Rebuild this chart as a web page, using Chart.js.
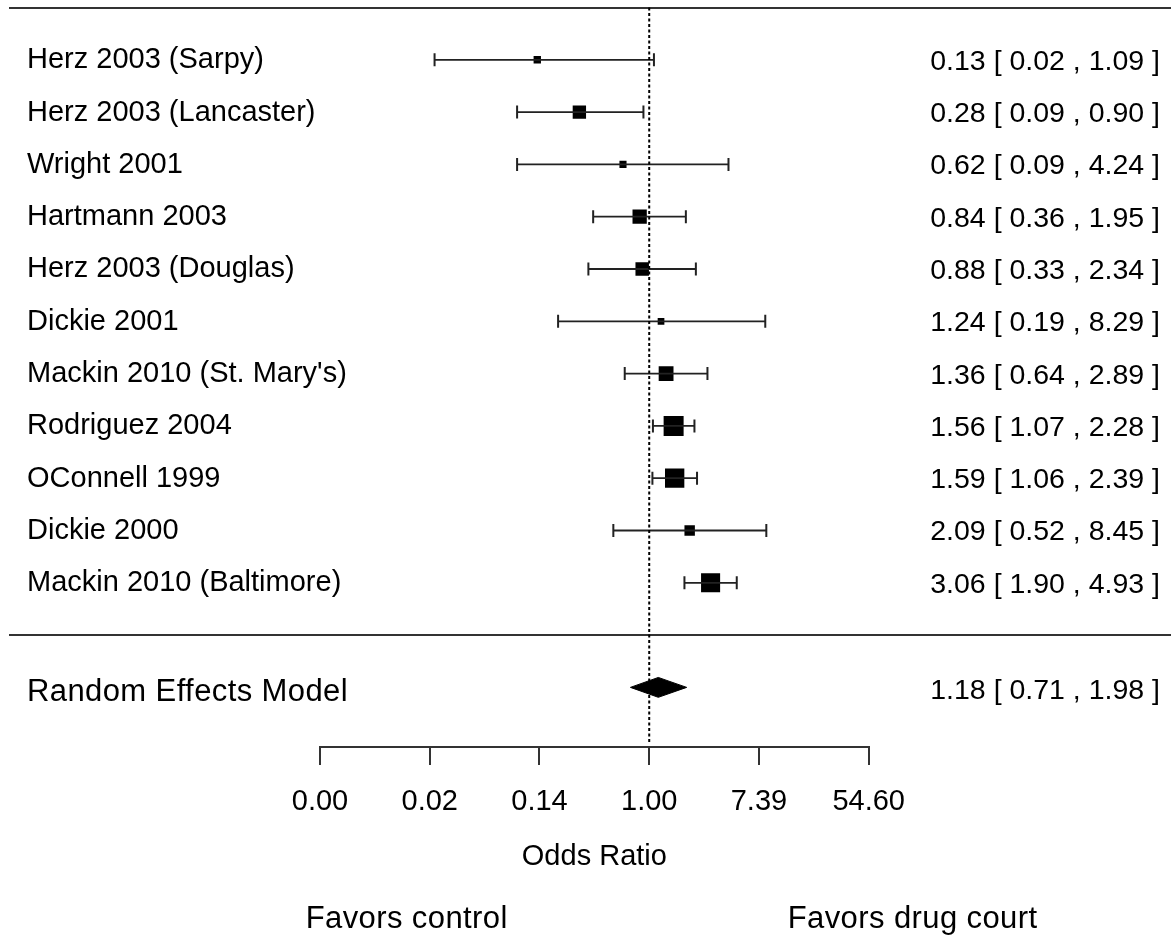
<!DOCTYPE html>
<html>
<head>
<meta charset="utf-8">
<script src="https://cdn.jsdelivr.net/npm/chart.js@4.4.1/dist/chart.umd.min.js"></script>
<style>
  html, body { margin: 0; padding: 0; background: #fff; }
  #wrap { width: 1171px; height: 938px; }
</style>
</head>
<body>
<div id="wrap"><canvas id="forest" width="1171" height="938"></canvas></div>
<script>
// Individual studies: odds ratio and 95% CI
const studies = [
    'Herz 2003 (Sarpy)', 'Herz 2003 (Lancaster)', 'Wright 2001', 'Hartmann 2003',
    'Herz 2003 (Douglas)', 'Dickie 2001', "Mackin 2010 (St. Mary's)", 'Rodriguez 2004',
    'OConnell 1999', 'Dickie 2000', 'Mackin 2010 (Baltimore)'
];
const oddsRatio = [0.13, 0.28, 0.62, 0.84, 0.88, 1.24, 1.36, 1.56, 1.59, 2.09, 3.06];
const ciLower   = [0.02, 0.09, 0.09, 0.36, 0.33, 0.19, 0.64, 1.07, 1.06, 0.52, 1.90];
const ciUpper   = [1.09, 0.90, 4.24, 1.95, 2.34, 8.29, 2.89, 2.28, 2.39, 8.45, 4.93];
// relative weights in the random-effects model (drive the square size)
const weights   = [4.0, 8.5, 3.8, 9.2, 8.6, 3.5, 9.6, 13.5, 13.0, 6.3, 12.8];

// Pooled estimate
const summaryLabel = 'Random Effects Model';
const summaryOR = [1.18];
const summaryLower = [0.71];
const summaryUpper = [1.98];

// Axis ticks, in log odds
const logTicks = [-6, -4, -2, 0, 2, 4];
const axisTitle = 'Odds Ratio';
const favorLabels = ['Favors control', 'Favors drug court'];

const FONT = "'Liberation Sans', Arial, sans-serif";
Chart.defaults.font.family = FONT;
Chart.defaults.color = '#000';

// study rows run 11 (top) .. 1, summary sits on -1, rule at 0, top rule at 12
const rows = studies.map((s, i) => studies.length - i);
const summaryRow = -1;

const whiskerData = [];
const capData = [];
studies.forEach((s, i) => {
    whiskerData.push({ x: ciLower[i], y: rows[i] }, { x: ciUpper[i], y: rows[i] }, { x: ciUpper[i], y: null });
    capData.push({ x: ciLower[i], y: rows[i] }, { x: ciUpper[i], y: rows[i] });
});

const wMin = Math.min(...weights), wMax = Math.max(...weights);
// square side from 6.7px to 20px, rect pointStyle radius = side / sqrt(2)
const squareRadius = weights.map(w => (6.7 + 13.3 * (w - wMin) / (wMax - wMin)) / Math.SQRT2);

const dh = 0.19; // diamond half height in row units
const fmt = v => v.toFixed(2);

const forestText = {
    id: 'forestText',
    beforeDatasetsDraw(chart) {
        const { ctx, scales: { y } } = chart;
        ctx.save();
        ctx.strokeStyle = '#333';
        ctx.lineWidth = 2;
        [12, 0].forEach(v => {
            const py = Math.round(y.getPixelForValue(v));
            ctx.beginPath();
            ctx.moveTo(9, py);
            ctx.lineTo(chart.width, py);
            ctx.stroke();
        });
        ctx.restore();
    },
    afterDraw(chart) {
        const { ctx, scales: { x, y } } = chart;
        ctx.save();
        ctx.fillStyle = '#000';
        ctx.textBaseline = 'alphabetic';

        // left column: study labels
        ctx.font = '29px ' + FONT;
        ctx.textAlign = 'left';
        studies.forEach((s, i) => ctx.fillText(s, 27, y.getPixelForValue(rows[i]) + 8.5));

        // right column: OR [ lower , upper ]
        ctx.font = '28.5px ' + FONT;
        ctx.textAlign = 'right';
        studies.forEach((s, i) => {
            const txt = fmt(oddsRatio[i]) + ' [ ' + fmt(ciLower[i]) + ' , ' + fmt(ciUpper[i]) + ' ]';
            ctx.fillText(txt, 1160, y.getPixelForValue(rows[i]) + 10);
        });
        const sy = y.getPixelForValue(summaryRow);
        ctx.fillText(fmt(summaryOR[0]) + ' [ ' + fmt(summaryLower[0]) + ' , ' + fmt(summaryUpper[0]) + ' ]', 1160, sy + 12);

        // summary label and favour captions
        ctx.font = '31px ' + FONT;
        ctx.letterSpacing = '0.4px';
        ctx.textAlign = 'left';
        ctx.fillText(summaryLabel, 27, sy + 13.5);
        ctx.textAlign = 'center';
        ctx.fillText(favorLabels[0], x.getPixelForValue(Math.exp(-4.42)), 928);
        ctx.fillText(favorLabels[1], x.getPixelForValue(Math.exp(4.8)), 928);
        ctx.restore();
    }
};

const ctx = document.getElementById('forest').getContext('2d');
new Chart(ctx, {
    type: 'scatter',
    data: {
        datasets: [
            {
                // reference line at OR = 1
                data: [{ x: 1, y: 12 }, { x: 1, y: -2.06 }],
                showLine: true,
                borderColor: '#000',
                borderWidth: 2,
                borderDash: [3, 2.5],
                pointRadius: 0,
                clip: false
            },
            {
                data: whiskerData,
                showLine: true,
                spanGaps: false,
                borderColor: '#222',
                borderWidth: 1.8,
                pointRadius: 0
            },
            {
                data: capData,
                pointStyle: 'line',
                rotation: 90,
                pointRadius: 6.5,
                pointBorderWidth: 2,
                pointBorderColor: '#222'
            },
            {
                data: oddsRatio.map((v, i) => ({ x: v, y: rows[i] })),
                pointStyle: 'rect',
                pointRadius: squareRadius,
                pointBackgroundColor: '#000',
                pointBorderWidth: 0
            },
            {
                data: [
                    { x: summaryLower[0], y: summaryRow },
                    { x: summaryOR[0], y: summaryRow + dh },
                    { x: summaryUpper[0], y: summaryRow }
                ],
                showLine: true,
                borderColor: '#000',
                borderWidth: 1,
                pointRadius: 0
            },
            {
                data: [
                    { x: summaryLower[0], y: summaryRow },
                    { x: summaryOR[0], y: summaryRow - dh },
                    { x: summaryUpper[0], y: summaryRow }
                ],
                showLine: true,
                borderColor: '#000',
                borderWidth: 1,
                backgroundColor: '#000',
                fill: '-1',
                pointRadius: 0
            }
        ]
    },
    options: {
        responsive: false,
        devicePixelRatio: 1,
        animation: false,
        layout: { autoPadding: false, padding: { left: 320, right: 302.3, top: 7.5, bottom: 0 } },
        plugins: {
            legend: { display: false },
            tooltip: { enabled: false }
        },
        scales: {
            x: {
                type: 'logarithmic',
                min: Math.exp(-6),
                max: Math.exp(4),
                bounds: 'data',
                afterBuildTicks: s => { s.ticks = logTicks.map(v => ({ value: Math.exp(v) })); },
                afterFit: s => { s.height = 191; },
                ticks: {
                    callback: v => Number(v).toFixed(2),
                    font: { size: 29 },
                    color: '#000',
                    padding: 20,
                    maxRotation: 0,
                    autoSkip: false
                },
                grid: { drawOnChartArea: false, tickLength: 18, color: '#333', lineWidth: 2 },
                border: { display: true, color: '#333', width: 2 },
                title: {
                    display: true,
                    text: axisTitle,
                    font: { size: 29 },
                    color: '#000',
                    padding: { top: 0, bottom: 64 }
                }
            },
            y: { type: 'linear', min: -2.14, max: 12, display: false }
        }
    },
    plugins: [forestText]
});
</script>
</body>
</html>
